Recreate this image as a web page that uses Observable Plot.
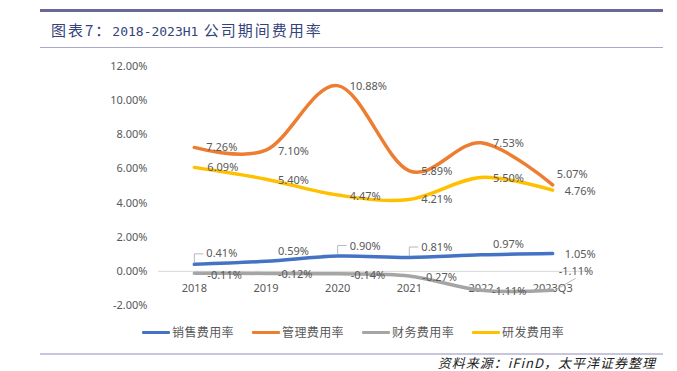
<!DOCTYPE html>
<html>
<head>
<meta charset="utf-8">
<script src="https://cdn.jsdelivr.net/npm/d3@7"></script>
<script src="https://cdn.jsdelivr.net/npm/@observablehq/plot@0.6"></script>
<style>
  html, body { margin: 0; padding: 0; background: #fff; }
  body { width: 677px; height: 371px; position: relative; overflow: hidden; font-family: "Noto Sans", sans-serif; }
  .rule { position: absolute; left: 40px; width: 623px; }
  #topbar { top: 9px; height: 3px; background: #68689b; }
  #titleline { top: 47px; height: 1px; background: #a9a9cc; }
  #bottomline { top: 353px; height: 2px; background: #c6c6de; }
  #title { position: absolute; left: 51px; top: 19px; font-family: "Noto Sans CJK SC"; font-size: 15px; color: #34437a; white-space: nowrap; line-height: 22px; }
  #title .cjk { letter-spacing: 2px; }
  #title .num { font-family: "DejaVu Sans Mono"; font-size: 13px; letter-spacing: 0px; }
  #chart { position: absolute; left: 0; top: 50px; }
  #legend { position: absolute; left: 142px; top: 323px; display: flex; gap: 18px; font-family: "Noto Sans CJK SC"; font-size: 12px; color: #595959; letter-spacing: 0.4px; line-height: 18px; }
  #legend .item { display: flex; align-items: center; }
  #legend .sw { width: 28px; height: 3px; margin-right: 2px; border-radius: 1px; }
  #source { position: absolute; right: 21px; top: 356px; font-family: "Noto Sans CJK SC"; font-size: 13px; font-style: italic; color: #222; letter-spacing: 1px; line-height: 14px; white-space: nowrap; }
</style>
</head>
<body>
<div class="rule" id="topbar"></div>
<div id="title"><span class="cjk">图表7：</span><span class="num">2018-2023H1</span><span class="cjk"> 公司期间费用率</span></div>
<div class="rule" id="titleline"></div>
<div id="chart"></div>
<div id="legend"></div>
<div class="rule" id="bottomline"></div>
<div id="source">资料来源：iFinD，太平洋证券整理</div>
<script>
// ---- data ----
const categories = ["2018", "2019", "2020", "2021", "2022", "2023Q3"];
const salesRate = [0.41, 0.59, 0.90, 0.81, 0.97, 1.05];
const adminRate = [7.26, 7.10, 10.88, 5.89, 7.53, 5.07];
const financeRate = [-0.11, -0.12, -0.14, -0.27, -1.11, -1.11];
const rndRate = [6.09, 5.40, 4.47, 4.21, 5.50, 4.76];
const seriesNames = ["销售费用率", "管理费用率", "财务费用率", "研发费用率"];
const yTicks = [-2, 0, 2, 4, 6, 8, 10, 12];

// ---- styling ----
const colors = ["#4472C4", "#ED7D31", "#A5A5A5", "#FFC000"];
const seriesValues = [salesRate, adminRate, financeRate, rndRate];
// label offsets in pixels (dx, dy) relative to each point
const labelDx = [
  [12, 12, 12, 12, 12, 12],
  [12, 12, 12, 12, 12, 4],
  [13, 12, 13, 13, 11, 6],
  [13, 12, 12, 12, 12, 12]
];
const labelDy = [
  [-10.5, -10, -10, -10.5, -10, 1.5],
  [0, 1.5, 1, 1, 1, -10],
  [2, 1.5, 2, 2, 1.5, -19],
  [0, 1, 1, 0, 1, 1.5]
];
const leaderIdx = [0, 2, 3]; // blue labels with callout leaders

const fmt = v => v.toFixed(2) + "%";

const rows = [];
seriesValues.forEach((vals, s) => vals.forEach((v, i) => rows.push({s, name: seriesNames[s], i, v})));

const marks = [
  Plot.ruleY([0], {stroke: "#d9d9d9", strokeWidth: 1}),
  Plot.axisY({ticks: yTicks, tickFormat: fmt, tickSize: 0, tickPadding: 11, fill: "#595959", fontSize: 11, label: null}),
  Plot.axisX({ticks: d3.range(categories.length), tickFormat: i => categories[i], tickSize: 0, tickPadding: 0, dy: -21, fill: "#595959", fontSize: 11, label: null})
];

seriesValues.forEach((vals, s) => {
  marks.push(Plot.line(rows.filter(r => r.s === s), {
    x: "i", y: "v", stroke: colors[s], strokeWidth: 3.5, curve: "cardinal", strokeLinecap: "round"
  }));
});

// leader lines (callouts)
const pxX = 71.67, pxY = 17.07;
marks.push(Plot.link(leaderIdx.map(i => ({i, v: salesRate[i]})), {
  x1: "i", y1: d => d.v + 1 / pxY, x2: d => d.i + 9 / pxX, y2: d => d.v + 10.5 / pxY,
  curve: "step-before", stroke: "#a6a6a6", strokeWidth: 0.8
}));
marks.push(Plot.link([{i: 5, v: financeRate[5]}], {
  x1: d => d.i + 1 / pxX, y1: d => d.v - 0.5 / pxY, x2: d => d.i + 23 / pxX, y2: d => d.v + 12 / pxY,
  stroke: "#a6a6a6", strokeWidth: 0.8
}));

// data labels
rows.forEach(r => {
  marks.push(Plot.text([r], {
    x: "i", y: "v", text: d => fmt(d.v), textAnchor: "start",
    dx: labelDx[r.s][r.i], dy: labelDy[r.s][r.i], fill: "#595959", fontSize: 11
  }));
});

const chart = Plot.plot({
  width: 677,
  height: 270,
  marginLeft: 158,
  marginRight: 89,
  marginTop: 16,
  marginBottom: 15,
  style: {background: "transparent", fontFamily: "Noto Sans", fontSize: "11px", overflow: "visible"},
  x: {type: "linear", domain: [-0.5, 5.5], axis: null},
  y: {domain: [-2, 12], axis: null},
  marks
});
document.getElementById("chart").appendChild(chart);

// legend
const legend = document.getElementById("legend");
seriesNames.forEach((n, s) => {
  const it = document.createElement("div");
  it.className = "item";
  const sw = document.createElement("span");
  sw.className = "sw";
  sw.style.background = colors[s];
  const tx = document.createElement("span");
  tx.textContent = n;
  it.appendChild(sw); it.appendChild(tx);
  legend.appendChild(it);
});
</script>
</body>
</html>
